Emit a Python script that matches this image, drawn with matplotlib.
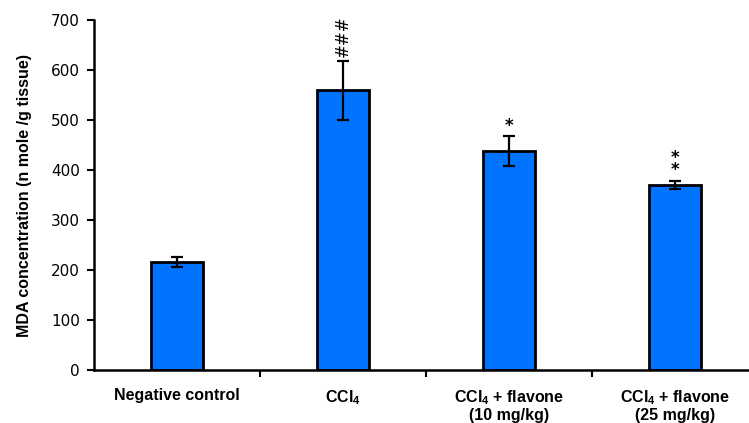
import matplotlib as mpl
mpl.use('Agg')
import matplotlib.pyplot as plt

mpl.rcParams['mathtext.fontset'] = 'custom'
mpl.rcParams['mathtext.bf'] = 'Liberation Sans:bold'
mpl.rcParams['mathtext.rm'] = 'Liberation Sans:bold'
mpl.rcParams['mathtext.default'] = 'bf'

groups = ['Negative control', 'CCl$_4$', 'CCl$_4$ + flavone\n(10 mg/kg)', 'CCl$_4$ + flavone\n(25 mg/kg)']
mda = [216, 560, 439, 371]
sem = [10, 59, 30, 8]
marks = ['', '###', '*', '**']

fig = plt.figure(figsize=(7.49, 4.23), dpi=100)
ax = fig.add_axes([0.1255, 0.1253, 0.8865, 0.8274])

x = range(len(groups))
ax.bar(x, mda, width=0.31, color='#0073ff', edgecolor='black', linewidth=2, zorder=2)
ax.errorbar(x, mda, yerr=sem, fmt='none', ecolor='black', elinewidth=1.6,
            capsize=4, capthick=1.6, zorder=3)

for i, (m, v, e) in enumerate(zip(marks, mda, sem)):
    if m == '###':
        ax.text(i, v + e + 7, m, rotation=90, ha='center', va='bottom',
                fontsize=12, family='DejaVu Sans')
    elif m == '**':
        ax.text(i, v + e + 3, '*\n*', ha='center', va='bottom', fontsize=12,
                linespacing=0.6, family='DejaVu Sans', fontweight='bold')
    elif m:
        ax.text(i, v + e + 2, m, ha='center', va='bottom', fontsize=12,
                family='DejaVu Sans', fontweight='bold')

ax.set_xlim(-0.5, 3.5)
ax.set_ylim(0, 700)
ax.set_yticks(range(0, 701, 100))
ax.tick_params(axis='y', labelsize=11, length=5, width=1.5, direction='out', pad=5)
ax.set_xticks(x)
ax.set_xticklabels(groups, fontsize=11.5, fontweight='bold', family='Liberation Sans',
                   linespacing=1.1)
ax.tick_params(axis='x', length=0, pad=13)
ax.set_xticks([0.5, 1.5, 2.5], minor=True)
ax.tick_params(axis='x', which='minor', length=5, width=1.5, direction='out')

for s in ['top', 'right']:
    ax.spines[s].set_visible(False)
for s in ['left', 'bottom']:
    ax.spines[s].set_linewidth(1.8)

ax.set_ylabel('MDA concentration (n mole /g tissue)', fontsize=11.5, fontweight='bold',
              family='Liberation Sans', labelpad=14)

fig.savefig('out.png', dpi=100)
